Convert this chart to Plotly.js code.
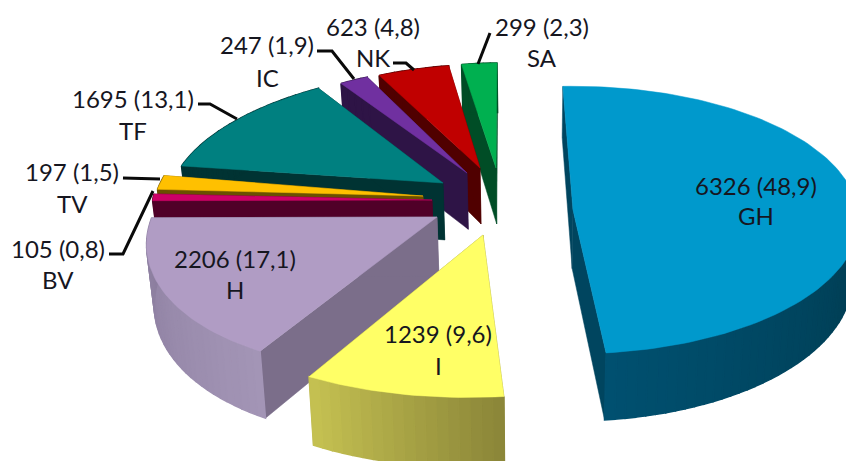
<!DOCTYPE html>
<html>
<head>
<meta charset="utf-8">
<script src="https://cdn.plot.ly/plotly-3.0.1.min.js"></script>
<style>html,body{margin:0;padding:0;background:#fff}#chart{width:846px;height:461px}</style>
</head>
<body>
<div id="chart"></div>
<script>
// Data
const categories = ['GH','I','H','BV','TV','TF','IC','NK','SA'];
const values = [6326,1239,2206,105,197,1695,247,623,299];
const percentLabels = ['48,9','9,6','17,1','0,8','1,5','13,1','1,9','4,8','2,3'];

// Style: colours
const topColors = ['#0099CC','#FFFF66','#B09CC4','#CC0066','#FFC000','#008080','#7030A0','#C00000','#00B050'];
const cutColors = ['#00455F','#8A8538','#7B6E8A','#500028','#6A5000','#003333','#2E1446','#500000','#004D26'];
const arcFrom = ['#003A4E','#8A8538','#A395B6','#500028','#6A5000','#003333','#2E1446','#500000','#004D26'];
const arcTo = ['#005070','#C6C252','#8B7D9E','#500028','#6A5000','#003333','#2E1446','#500000','#004D26'];

// Layout of the exploded slices (placement of each slice's tip and its perspective correction)
const tipX = [573,483,437,432,423,443,467,480,496];
const tipY = [210,235,217,200,196,183,173,168,168];
const scaleX = [1,1.107,1.0,0.98,0.94,0.95,0.904,0.895,0.92];
const scaleY = [1,1.13,1.07,1,1.1,0.92,0.87,0.84,0.85];
const shear = [0,-0.097,-0.24,0,-0.18,-0.219,-0.137,-0.118,-0.098];
const radiusX = 285, radiusY = 133, perspective = 0.075, startAngle = -2.2;
const drawOrder = [8,7,6,5,4,3,2,1,0];

// Label placement
const labelX = [756,438,235,58,72,133,267,373,542];
const labelY1 = [185,333,258,248,171,98,44,26,26];
const labelY2 = [215,365,289,279,203,130,77,57,57];
const leaderPaths = [
  'M490,33 L478,64',
  'M393,63 L406,63 L414,70',
  'M317,51 L332,51 L354,79',
  'M198,104 L210,104 L237,119',
  'M123,178 L160,179',
  'M109,254 L123,254 L153,191'
];

const total = values.reduce((a,b)=>a+b,0);
const rad = d => d*Math.PI/180;
const starts = [];
let acc = startAngle;
values.forEach(v => { starts.push(acc); acc += v/total*360; });
const ends = starts.map((s,i)=>s+values[i]/total*360);

function pt(i, deg){
  const t = rad(deg), s = 1/(1+perspective*Math.cos(t));
  const dy = -radiusY*Math.cos(t)*s*scaleY[i];
  const dx = radiusX*Math.sin(t)*s*scaleX[i] + shear[i]*dy;
  return [tipX[i]+dx, tipY[i]+dy];
}
function below(p){
  const d = 56+(p[1]-168)*0.06;
  return [p[0]+(530-p[0])*0.02, p[1]+d];
}
function hex(c){return [1,3,5].map(k=>parseInt(c.substr(k,2),16));}
function mix(a,b,f){const A=hex(a),B=hex(b);return 'rgb('+A.map((v,k)=>Math.round(v+(B[k]-v)*f)).join(',')+')';}
function poly(points,color,w){
  const xs=points.map(p=>p[0]), ys=points.map(p=>p[1]);
  xs.push(xs[0]); ys.push(ys[0]);
  return {type:'scatter',mode:'lines',x:xs,y:ys,fill:'toself',fillcolor:color,
          line:{color:color,width:w===undefined?0.5:w},hoverinfo:'skip',showlegend:false};
}

const traces = [];
drawOrder.forEach(i => {
  const tip = [tipX[i],tipY[i]];
  const a = starts[i], b = ends[i];
  const pa = pt(i,a), pb = pt(i,b);
  // cut faces
  traces.push(poly([tip,pa,below(pa),below(tip)],cutColors[i]));
  traces.push(poly([tip,pb,below(pb),below(tip)],cutColors[i]));
  // rim strips
  const lo = Math.max(a,90), hi = Math.max(b,90);
  if (hi>lo){
    const n = Math.max(1,Math.ceil((hi-lo)/2));
    for(let k=0;k<n;k++){
      const d0=lo+(hi-lo)*k/n, d1=lo+(hi-lo)*(k+1)/n;
      const p0=pt(i,d0), p1=pt(i,d1);
      traces.push(poly([p0,p1,below(p1),below(p0)],mix(arcFrom[i],arcTo[i],(k+0.5)/n),1.5));
    }
  } else {
    const n = Math.max(1,Math.ceil((b-a)/3.5));
    const pts=[];
    for(let k=0;k<=n;k++) pts.push(pt(i,a+(b-a)*k/n));
    traces.push(poly(pts.concat(pts.slice().reverse().map(below)),cutColors[i]));
  }
  // top face
  const top=[tip];
  const m=Math.max(2,Math.ceil((b-a)/1.5));
  for(let k=0;k<=m;k++) top.push(pt(i,a+(b-a)*k/m));
  traces.push(poly(top,topColors[i]));
});

const textColor = '#16161f', textFont = {family:'Lato, "Open Sans", sans-serif', size:24, color:textColor};
const annotations = [];
categories.forEach((c,i)=>{
  annotations.push({x:labelX[i],y:labelY1[i],xref:'x',yref:'y',showarrow:false,text:values[i]+' ('+percentLabels[i]+')',font:textFont,xanchor:'center',yanchor:'middle'});
  annotations.push({x:labelX[i],y:labelY2[i],xref:'x',yref:'y',showarrow:false,text:c,font:textFont,xanchor:'center',yanchor:'middle'});
});

const layout = {
  width:846,height:461,margin:{l:0,r:0,t:0,b:0},
  paper_bgcolor:'#fff',plot_bgcolor:'#fff',showlegend:false,hovermode:false,
  xaxis:{range:[0,846],visible:false,fixedrange:true},
  yaxis:{range:[461,0],visible:false,fixedrange:true},
  annotations:annotations,
  shapes:leaderPaths.map(p=>({type:'path',path:p,xref:'x',yref:'y',line:{color:'#0a0a0a',width:3},layer:'above'}))
};
Plotly.newPlot('chart',traces,layout,{displayModeBar:false,staticPlot:true});
</script>
</body>
</html>
